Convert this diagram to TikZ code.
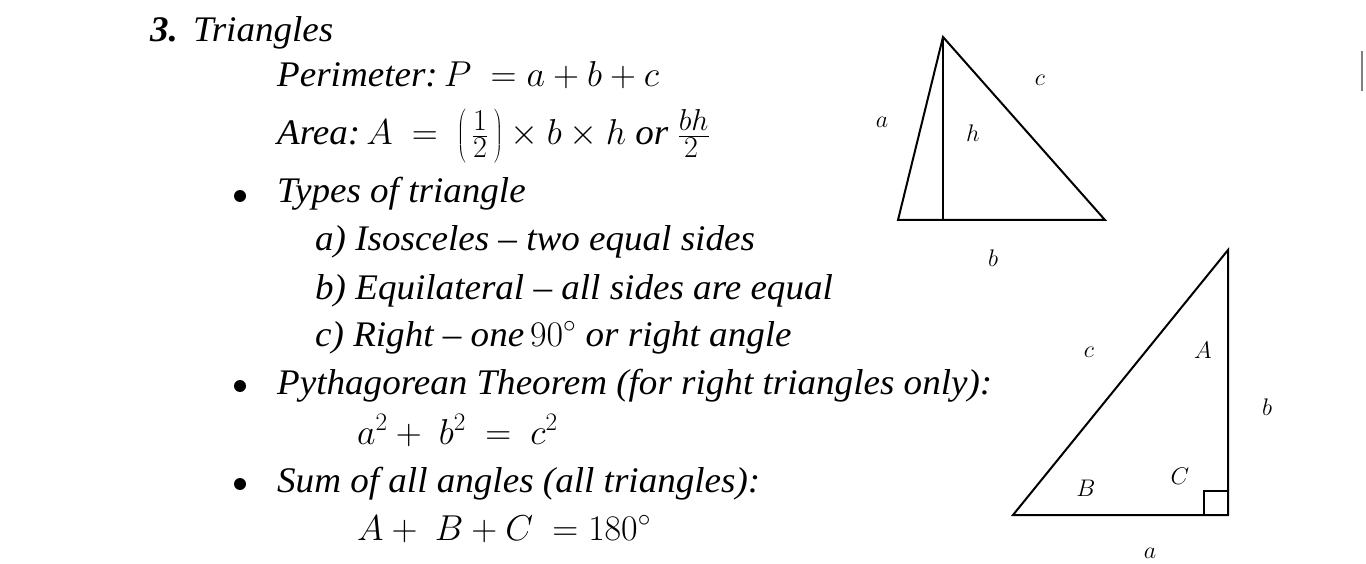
\RequirePackage{fix-cm}
\documentclass[tikz,border=0pt]{standalone}
\usepackage{graphicx}
\usepackage{fontspec}
\setmainfont{Liberation Serif}[FakeStretch=1.03]
\newcommand\myfr[2]{\frac{\scalebox{1.2}{$\scriptstyle #1$}}{\scalebox{1.2}{$\scriptstyle #2$}}}
\begin{document}
\begin{tikzpicture}[x=1pt,y=-1pt,
  txt/.style={anchor=base west, inner sep=0pt, font=\fontsize{36}{43}\selectfont\itshape},
  lbl/.style={inner sep=0pt, font=\fontsize{24}{28}\selectfont},
  tri/.style={draw, line width=2pt, line join=miter},
  bul/.style={circle, fill, inner sep=0pt, minimum size=12pt}]
\useasboundingbox (0,0) rectangle (1366,564);
% text
\node[txt] (num) at (150,42) {\textbf{3.}};
\node[txt] (title) at (193,42) {Triangles};
\node[txt] (perim) at (277,87) {Perimeter:\,$P\ = a + b + c$};
\node[txt] (area) at (277,145) {Area:\,$A\ =\ \left(\rule[-19pt]{0pt}{56pt}\,\myfr{1}{2}\,\right)\times b\times h$ or\ $\myfr{bh}{2}$};
\node[bul] (b1) at (240,196) {};
\node[txt] (types) at (277,203) {Types of triangle};
\node[txt] (isos) at (315,251) {a) Isosceles – two equal sides};
\node[txt] (equi) at (315,299) {b) Equilateral – all sides are equal};
\node[txt] (right) at (315,346) {c) Right – one\,$90^\circ$ or right angle};
\node[bul] (b2) at (240,386) {};
\node[txt] (pyth) at (277,394) {Pythagorean Theorem (for right triangles only):};
\node[txt] (pytheq) at (357,444) {$a^2 +\ b^2\ =\ c^2$};
\node[bul] (b3) at (240,484) {};
\node[txt] (sum) at (277,492) {Sum of all angles (all triangles):};
\node[txt] (sumeq) at (357,540) {$A +\ B + C\ = 180^\circ$};
% triangle 1
\coordinate (t1a) at (943,37);
\coordinate (t1l) at (898,220);
\coordinate (t1r) at (1105,220);
\coordinate (t1f) at (943,220);
\draw[tri] (t1a) -- (t1l) -- (t1r) -- cycle;
\draw[tri] (t1a) -- (t1f);
\node[lbl] (la) at (882,122) {$a$};
\node[lbl] (lh) at (973,133) {$h$};
\node[lbl] (lc) at (1040,80) {$c$};
\node[lbl] (lb) at (993,258) {$b$};
% triangle 2
\coordinate (t2l) at (1013,515);
\coordinate (t2r) at (1228,515);
\coordinate (t2t) at (1228,250);
\draw[tri] (t2l) -- (t2r) -- (t2t) -- cycle;
\draw[tri] (1204,515) -- (1204,491) -- (1228,491);
\node[lbl] (mc) at (1089,352) {$c$};
\node[lbl] (mA) at (1203,350) {$A$};
\node[lbl] (mb) at (1267,407) {$b$};
\node[lbl] (mB) at (1086,488) {$B$};
\node[lbl] (mC) at (1180,476) {$C$};
\node[lbl] (ma) at (1150,553) {$a$};
% edge mark
\draw[gray, line width=2.5pt] (1362,51) -- (1362,91);
\end{tikzpicture}
\end{document}
